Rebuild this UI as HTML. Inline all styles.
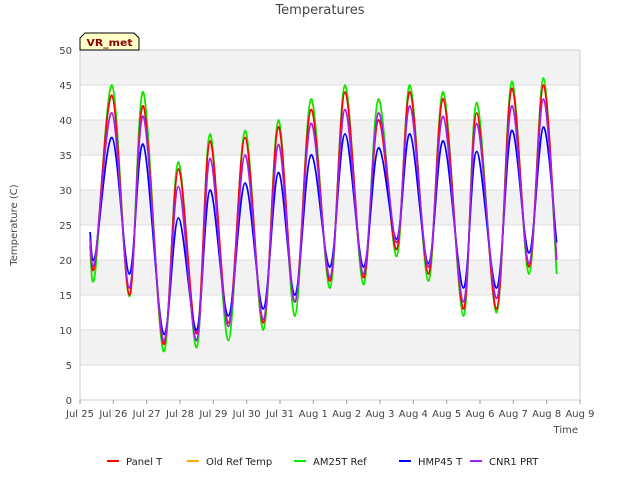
<!DOCTYPE html>
<html><head><meta charset="utf-8"><style>
body{margin:0;background:#fff;}
svg text{font-family:"DejaVu Sans","Liberation Sans",sans-serif;}
</style></head><body>
<svg id="chart" width="640" height="480" viewBox="0 0 640 480" xmlns="http://www.w3.org/2000/svg">
<text x="320" y="14" text-anchor="middle" font-size="13" fill="#444">Temperatures</text>
<g id="bands"></g>
<g id="grid"></g>
<rect x="80" y="50" width="500" height="350" fill="none" stroke="#ccc"/>
<g id="yticks"></g>
<g id="xticks"></g>
<g id="series"></g>
<text transform="translate(17,225) rotate(-90)" text-anchor="middle" font-size="10" fill="#444">Temperature (C)</text>
<text x="578" y="433" text-anchor="end" font-size="10" fill="#444">Time</text>
<g>
<path d="M80,50 L80,38 L85,33 L134,33 L139,38 L139,50 Z" fill="#ffffc8" stroke="#000"/>
<text x="109.5" y="46" text-anchor="middle" font-size="10" font-weight="bold" fill="#8b0000" textLength="46" lengthAdjust="spacingAndGlyphs">VR_met</text>
</g>
<g id="legend"></g>
</svg>
<script>
const xTickLabels=["Jul 25","Jul 26","Jul 27","Jul 28","Jul 29","Jul 30","Jul 31","Aug 1","Aug 2","Aug 3","Aug 4","Aug 5","Aug 6","Aug 7","Aug 8","Aug 9"];
const yTicks=[0,5,10,15,20,25,30,35,40,45,50];
const times=[0.3,0.45,0.96,1.48,1.9,2.5,2.95,3.5,3.9,4.45,4.95,5.5,5.95,6.45,6.93,7.5,7.95,8.5,8.95,9.5,9.9,10.45,10.9,11.5,11.9,12.5,12.95,13.47,13.9,14.3];
const panelT=[23,19.5,43.5,15,42,8,33,9.5,37,11,37.5,11,39,14,41.5,17,44,17.5,40,21.5,44,18,43,13,41,13,44.5,19,45,20];
const oldRef=[22,18,44.8,14.8,43.8,7,33.8,7.5,37.8,8.5,38.3,10,39.8,12,42.8,16,44.8,16.5,42.8,20.5,44.8,17,43.8,12,42.3,12.5,45.3,18,45.8,18];
const am25t=[22,18,45,14.8,44,7,34,7.5,38,8.5,38.5,10,40,12,43,16,45,16.5,43,20.5,45,17,44,12,42.5,12.5,45.5,18,46,18];
const hmp45=[24,20.5,37.5,18,36.5,9.5,26,10,30,12,31,13,32.5,15,35,19,38,19,36,23,38,19.5,37,16,35.5,16,38.5,21,39,22.5];
const cnr1=[23,20,41,16,40.5,8.5,30.5,8.5,34.5,10.5,35,11.5,36.5,14,39.5,17.5,41.5,18,41,22.5,42,19,40.5,14,39.5,14.5,42,19.5,43,20];
const seriesNames=["Panel T","Old Ref Temp","AM25T Ref","HMP45 T","CNR1 PRT"];
const seriesData=[panelT,oldRef,am25t,hmp45,cnr1];
const seriesColors=["#ff0000","#ffa500","#00ee00","#0000ff","#a020f0"];
const drawOrder=[1,2,0,3,4];
const NS="http://www.w3.org/2000/svg";
const X=d=>80+d*500/15, Y=v=>400-v*7;
function mk(t,a,p){const e=document.createElementNS(NS,t);for(const k in a)e.setAttribute(k,a[k]);p.appendChild(e);return e;}
const bands=document.getElementById('bands');
for(let v=5;v<50;v+=10){const r=mk('rect',{x:80,y:Y(v+5),width:500,height:Y(v)-Y(v+5),fill:'#f2f2f2'},bands);

}
const grid=document.getElementById('grid'),yt=document.getElementById('yticks'),xt=document.getElementById('xticks');
yTicks.forEach(v=>{const l=mk('line',{x1:80,x2:580,y1:Y(v),y2:Y(v),stroke:'#ddd'},grid);


const t=mk('text',{x:72,y:Y(v)+4,'text-anchor':'end','font-size':10,fill:'#444'},yt);t.textContent=v;

});
xTickLabels.forEach((s,i)=>{mk('line',{x1:X(i),x2:X(i),y1:400,y2:404,stroke:'#999'},xt);
const t=mk('text',{x:X(i),y:417,'text-anchor':'middle','font-size':10,fill:'#444'},xt);t.textContent=s;

});
function path(vals){const p=times.map((t,i)=>[X(t),Y(vals[i])]);let d='M'+p[0][0]+','+p[0][1];
for(let i=0;i<p.length-1;i++){const p0=p[Math.max(0,i-1)],p1=p[i],p2=p[i+1],p3=p[Math.min(p.length-1,i+2)];
const c1=[p1[0]+(p2[0]-p0[0])/6,p1[1]+(p2[1]-p0[1])/6],c2=[p2[0]-(p3[0]-p1[0])/6,p2[1]-(p3[1]-p1[1])/6];
d+=` C${c1[0]},${c1[1]} ${c2[0]},${c2[1]} ${p2[0]},${p2[1]}`;}return d;}
const sg=document.getElementById('series');
drawOrder.forEach(i=>{const e=mk('path',{d:path(seriesData[i]),fill:'none',stroke:seriesColors[i],'stroke-width':1.7},sg);

});
const lg=document.getElementById('legend');const lx=[107,187,294,399,470];
seriesNames.forEach((n,i)=>{const g=mk('g',{},lg);


mk('line',{x1:lx[i],x2:lx[i]+12,y1:461,y2:461,stroke:seriesColors[i],'stroke-width':2},g);
const t=mk('text',{x:lx[i]+19,y:465,'font-size':10,fill:'#222'},g);t.textContent=n;});
</script>
</body></html>
